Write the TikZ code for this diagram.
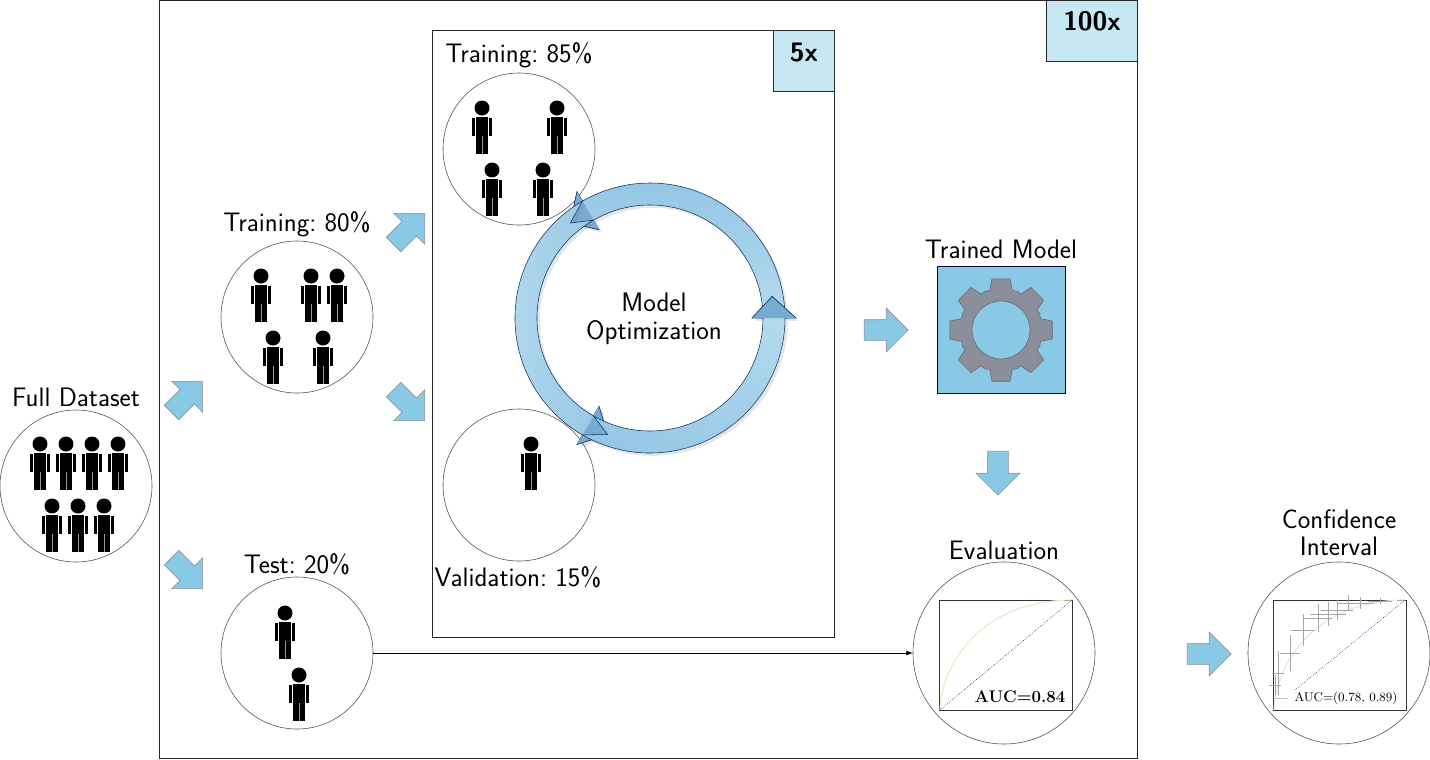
\documentclass[tikz,border=0pt]{standalone}
\usepackage{amsmath}
\usepackage{tikz}
\usetikzlibrary{arrows.meta,calc,shapes.arrows,shadows}
\definecolor{csky}{RGB}{137,201,229}
\definecolor{cpale}{RGB}{199,231,243}
\definecolor{cring}{RGB}{180,218,238}
\definecolor{cringm}{RGB}{148,198,228}
\definecolor{cringd}{RGB}{118,172,212}
\definecolor{cedge}{RGB}{18,52,96}
\definecolor{cgear}{RGB}{139,143,155}
\definecolor{croc}{RGB}{236,232,205}
\tikzset{
  cohort/.style={circle,draw=black!70,thin,inner sep=0pt,minimum size=3.8cm},
  bigcohort/.style={cohort,minimum size=4.55cm},
  title/.style={font=\fontsize{19}{19.5}\selectfont\sffamily,align=center,inner sep=0pt},
  repeats/.style={font=\fontsize{19}{20}\selectfont\sffamily\bfseries,inner sep=0pt},
  blockarrow/.style={single arrow,fill=csky,draw=black!45,thin,inner sep=0pt,
    text height=0.25cm,text depth=0.25cm,minimum height=1.1cm,
    single arrow head extend=0.29cm},
  plotbox/.style={draw=black!80,thin},
  aucbold/.style={font=\fontsize{12}{14}\selectfont\bfseries,inner sep=0pt},
  aucplain/.style={font=\fontsize{9}{11}\selectfont,inner sep=0pt},
  link/.style={-{Latex[length=1.6mm]},thin},
  person/.pic={
    \fill (0,0) circle (7.5);
    \fill (-5.8,9) rectangle (5.8,46);
    \fill (-9.8,9.5) rectangle (-6.8,28);
    \fill (6.8,9.5) rectangle (9.8,28);
    \fill[white!60!black] (-0.3,28) rectangle (0.3,46);
  }
}
\begin{document}
\begin{tikzpicture}[x=0.025cm,y=-0.025cm,>=Latex]
  \useasboundingbox (0,0) rectangle (1430,759);
  % repeat frames
  \draw[black!85] (159,0) rectangle (1137,758);
  \draw[black!85,fill=cpale] (1046,0) rectangle (1137,61);
  \node[repeats] (outerlab) at (1092,21) {100x};
  \draw[black!85] (432,30) rectangle (834,637);
  \draw[black!85,fill=cpale] (773,30) rectangle (834,91);
  \node[repeats] (innerlab) at (804,53) {5x};

  % cohorts
  \node[cohort] (full) at (76,486) {};
  \node[cohort] (train) at (297,317) {};
  \node[cohort] (test) at (297,653) {};
  \node[cohort] (fit) at (519,149) {};
  \node[cohort] (val) at (519,485) {};
  \node[bigcohort] (eval) at (1004,653) {};
  \node[bigcohort] (ci) at (1339,653) {};
  \foreach \px/\py in {40/444,66/444,92/444,118/444,52/506,78/506,104/506,
      261/276,311/276,337/276,273/338,323/338,285/613,299/675,
      482/108,557/108,492/170,543/170,531/444}
    \pic at (\px,\py) {person};

  \node[title] (fulllab) at (76,397) {Full Dataset};
  \node[title] (trainlab) at (297,224) {Training:\ 80\%};
  \node[title] (testlab) at (297,564) {Test:\ 20\%};
  \node[title] (fitlab) at (519,55) {Training:\ 85\%};
  \node[title] (vallab) at (518,577) {Validation:\ 15\%};
  \node[title] (modellab) at (1001,249) {Trained Model};
  \node[title] (evallab) at (1004,550) {Evaluation};
  \node[title] (cilab) at (1339,533) {Confidence\\Interval};

  % block arrows
  \node[blockarrow,rotate=45] (a1) at (183.5,400.5) {};
  \node[blockarrow,rotate=-45] (a2) at (183.5,569.5) {};
  \node[blockarrow,rotate=45] (a3) at (405.5,232.5) {};
  \node[blockarrow,rotate=-45] (a4) at (405.5,401.5) {};
  \node[blockarrow] (a5) at (881,330) {};
  \node[blockarrow,rotate=-90] (a6) at (998,468) {};
  \node[blockarrow] (a7) at (1204,654) {};

  % optimization ring
  \begin{scope}[shift={(650,318)},yscale=-1]
    \foreach \s/\e/\ang in {0/120/0,120/240/-90,240/360/160} {
      \draw[cedge,left color=cringm,right color=cring,shading angle=\ang,
        drop shadow={shadow xshift=0.07cm,shadow yshift=-0.07cm,opacity=0.2}]
        (\s:135) arc[start angle=\s,end angle=\e,radius=135]
        -- (\e:146) -- ({\e+10}:124) -- (\e:102) -- (\e:113)
        arc[start angle=\e,end angle=\s,radius=113]
        -- ({\s+10}:124) -- cycle;
      \fill[cringd] (\e:146) -- ({\e+10}:124) -- (\e:102) -- cycle;
      \draw[cedge] (\e:146) -- ({\e+10}:124) -- (\e:102);
    }
  \end{scope}
  \node[title] (optlab) at (654,319) {Model\\Optimization};

  % trained model
  \draw[black!75!blue,fill=csky] (937,266) rectangle (1065,393);
  \begin{scope}[shift={(1001,330)}]
    \draw[black!60,fill=cgear,even odd rule] (-16:41)
      \foreach \a in {0,45,...,315} {
        -- ({\a-10}:52) -- ({\a+10}:52) -- ({\a+16}:41) -- ({\a+22.5}:42) -- ({\a+29}:41)
      } -- cycle (0,0) circle (29);
  \end{scope}

  % evaluation plot
  \draw[plotbox] (939.5,600) rectangle (1072.5,710.5);
  \draw[croc,thick] (940,710) .. controls (942,660) and (985,600) .. (1072,600);
  \draw[black!50!blue,densely dotted] (940,710) -- (1072,600);
  \node[aucbold] (auc) at (1020,697) {AUC=0.84};

  % confidence plot
  \draw[plotbox] (1273,600) rectangle (1406,710.5);
  \draw[croc,thick] (1274,710) .. controls (1276,660) and (1318,600) .. (1405,600);
  \foreach \cx/\cy/\w/\h in {1380/601/12/3,1360/603/14/6,1348/603/10/8,1337/610/16/10,
      1328/614/18/12,1318/618/14/14,1303/630/12/16,1290/653/10/18,1278/673/6/22,1275/685/6/10}
    \draw[black!35,very thin] (\cx-\w,\cy) -- (\cx+\w,\cy) (\cx,\cy-\h) -- (\cx,\cy+\h);
  \draw[black!25,thin] (1275,698) -- (1288,698);
  \draw[black!50!blue,densely dotted] (1295,690) -- (1405,600);
  \node[aucplain] (aucci) at (1346,698) {AUC=(0.78, 0.89)};

  \draw[link] (test) -- (test.east -| eval.west);
\end{tikzpicture}
\end{document}
